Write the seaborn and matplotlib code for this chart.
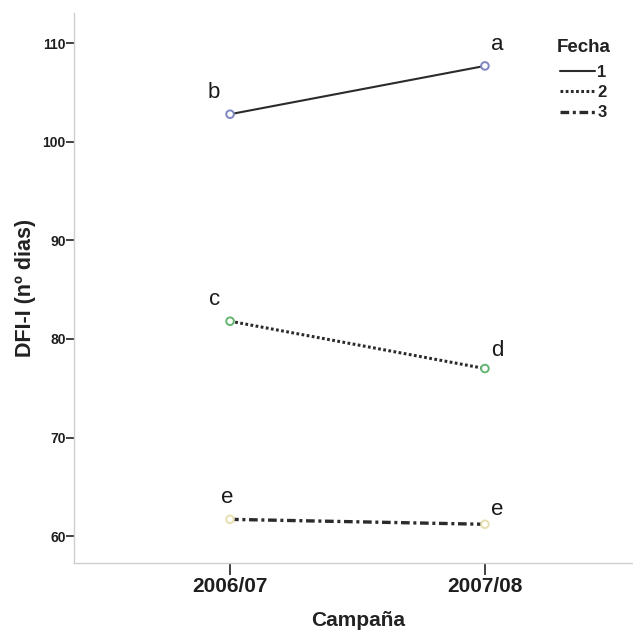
import matplotlib
matplotlib.use("Agg")
import matplotlib.pyplot as plt
import seaborn as sns
import pandas as pd

# Data: DFI-I (days) per season and sowing date
campanas = ["2006/07", "2007/08"]
fechas = ["1", "2", "3"]
dfi_fecha1 = [102.8, 107.7]
dfi_fecha2 = [81.8, 77.0]
dfi_fecha3 = [61.7, 61.2]
letras_fecha1 = ["b", "a"]
letras_fecha2 = ["c", "d"]
letras_fecha3 = ["e", "e"]
y_ticks = [60, 70, 80, 90, 100, 110]

rows = []
for f, vals, lets in zip(fechas,
                         [dfi_fecha1, dfi_fecha2, dfi_fecha3],
                         [letras_fecha1, letras_fecha2, letras_fecha3]):
    for c, v, l in zip(campanas, vals, lets):
        rows.append({"Campaña": c, "DFI": v, "Fecha": f, "Letra": l})
df = pd.DataFrame(rows)

sns.set_theme(style="white")
plt.rcParams["font.family"] = ["Liberation Sans", "DejaVu Sans"]

fig = plt.figure(figsize=(6.33, 6.32), dpi=100)
ax = fig.add_axes([0.117, 0.109, 0.881, 0.870])

line_color = "#2b2b2b"
dashes = {"1": "", "2": (0.9, 0.8), "3": (2.6, 1.1, 0.9, 1.1)}
widths = {"1": 1.5, "2": 2.2, "3": 2.4}
sns.lineplot(data=df, x="Campaña", y="DFI", style="Fecha", dashes=dashes,
             color=line_color, linewidth=1.6, ax=ax, sort=False)
for ln, f in zip(ax.lines[:len(fechas)], fechas):
    ln.set_linewidth(widths[f])

marker_colors = {"1": "#7f86c4", "2": "#63b572", "3": "#e6dfb0"}
sns.scatterplot(data=df, x="Campaña", y="DFI", hue="Fecha",
                palette=marker_colors, s=30, marker="o", linewidth=1.4,
                legend=False, ax=ax, zorder=5)
pc = ax.collections[-1]
pc.set_edgecolors(pc.get_facecolors())
pc.set_facecolors("white")

# Significance letters next to each mean
offsets = {("1", 0): (-16, 16), ("1", 1): (12, 16),
           ("2", 0): (-15, 16), ("2", 1): (12, 13),
           ("3", 0): (-3, 16), ("3", 1): (12, 9)}
for _, r in df.iterrows():
    xi = campanas.index(r["Campaña"])
    ax.annotate(r["Letra"], xy=(xi, r["DFI"]),
                xytext=offsets[(r["Fecha"], xi)], textcoords="offset pixels",
                ha="center", va="baseline", fontsize=16, color="#1a1a1a")

ax.set_xlim(-0.612, 1.576)
ax.set_ylim(57.26, 113.04)
ax.set_yticks(y_ticks)
ax.set_yticklabels([str(t) for t in y_ticks], fontsize=10, fontweight="bold",
                   color="#1e1e1e")
ax.set_xticks([0, 1])
ax.set_xticklabels(campanas, fontsize=15, fontweight="bold", color="#1e1e1e")

for side in ["top", "right"]:
    ax.spines[side].set_visible(False)
for side in ["left", "bottom"]:
    ax.spines[side].set_color("#cfcfcf")
    ax.spines[side].set_linewidth(1.0)

ax.tick_params(axis="y", direction="out", length=5.5, width=1.3,
               color="#333333", pad=0.5, left=True)
ax.tick_params(axis="x", direction="out", length=8.5, width=1.3,
               color="#333333", pad=1.5, bottom=True)

ax.set_ylabel("DFI-I (nº dias)", fontsize=15.5, fontweight="bold",
              color="#222222")
ax.set_xlabel("Campaña", fontsize=15, fontweight="bold", color="#222222")
ax.yaxis.set_label_coords(-0.068, 0.5)
ax.xaxis.set_label_coords(0.51, -0.087)

handles, labels = ax.get_legend_handles_labels()
for h, f in zip(handles, labels):
    h.set_color(line_color)
    if f in widths:
        h.set_linewidth(widths[f])
leg = ax.legend(handles, labels, title="Fecha", loc="upper left",
                bbox_to_anchor=(548 / 633, 1 - 31 / 632),
                bbox_transform=fig.transFigure, frameon=False,
                borderpad=0, handlelength=2.1, handletextpad=0.15,
                labelspacing=0.32, prop={"weight": "bold", "size": 12})
leg.get_title().set_fontweight("bold")
leg.get_title().set_fontsize(13.5)
leg.get_title().set_color("#222222")
leg._legend_box.sep = 6
for t in leg.get_texts():
    t.set_color("#222222")

fig.savefig("out.png", dpi=100, facecolor="white")
